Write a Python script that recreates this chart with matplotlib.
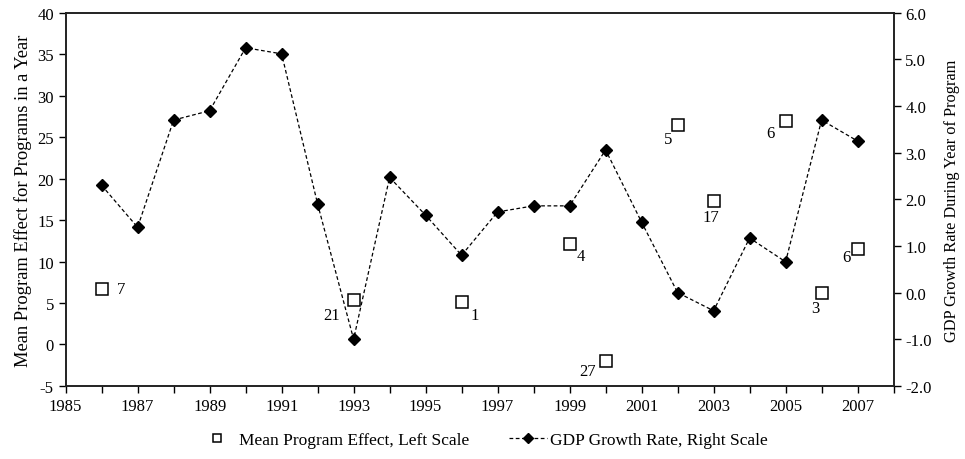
import numpy as np
import matplotlib.pyplot as plt
from matplotlib.ticker import FormatStrFormatter, MultipleLocator

plt.rcParams['font.family'] = ['Liberation Serif', 'DejaVu Serif']
plt.rcParams['axes.unicode_minus'] = False

# GDP growth rate during year of program (right scale)
gdp_years = np.arange(1986, 2008)
gdp_growth = [2.3, 1.4, 3.7, 3.9, 5.25, 5.12, 1.9, -1.0, 2.47, 1.66, 0.8,
              1.73, 1.86, 1.86, 3.06, 1.51, 0.0, -0.39, 1.17, 0.66, 3.7, 3.25]

# mean program effect (left scale) and number of programs in that year
effect_years = [1986, 1993, 1996, 1999, 2000, 2002, 2003, 2005, 2006, 2007]
effect_mean = [6.7, 5.3, 5.1, 12.1, -2.0, 26.5, 17.3, 27.0, 6.2, 11.5]
program_counts = [7, 21, 1, 4, 27, 5, 17, 6, 3, 6]
# where each count sits relative to its square, in pixels
count_offsets = [(19, 0), (-22, -15), (13, -13), (11, -12), (-18, -10),
                 (-9, -14), (-3, -16), (-15, -12), (-6, -15), (-11, -8)]

fig = plt.figure(figsize=(9.65, 4.6), dpi=100)
ax = fig.add_axes([0.068, 0.159, 0.858, 0.811])
ax2 = ax.twinx()

sq, = ax.plot(effect_years, effect_mean, linestyle='none', marker='s', markersize=8.5,
              markerfacecolor='white', markeredgecolor='black', markeredgewidth=1.1,
              label='Mean Program Effect, Left Scale', zorder=3)
for yr, val, n, off in zip(effect_years, effect_mean, program_counts, count_offsets):
    ax.annotate(str(n), (yr, val), xytext=off, textcoords='offset pixels',
                ha='center', va='center', fontsize=12)

gdp, = ax2.plot(gdp_years, gdp_growth, color='black', linestyle=(0, (3, 2)), linewidth=0.9,
                marker='D', markersize=6, markerfacecolor='black',
                label='GDP Growth Rate, Right Scale')

ax.set_xlim(1985, 2008)
ax.set_ylim(-5, 40)
ax2.set_ylim(-2, 6)
ax.set_xticks(np.arange(1985, 2008, 2))
ax.xaxis.set_minor_locator(MultipleLocator(1))
ax.yaxis.set_major_locator(MultipleLocator(5))
ax2.yaxis.set_major_locator(MultipleLocator(1))
ax2.yaxis.set_major_formatter(FormatStrFormatter('%.1f'))

for a in (ax, ax2):
    a.tick_params(axis='both', which='both', direction='out', labelsize=12,
                  width=1.0, colors='black')
    a.tick_params(which='major', length=5)
    a.tick_params(which='minor', length=5)
    for s in a.spines.values():
        s.set_linewidth(1.2)
        s.set_color('#222222')

ax.set_ylabel('Mean Program Effect for Programs in a Year', fontsize=13.3, labelpad=4)
ax2.set_ylabel('GDP Growth Rate During Year of Program', fontsize=11.8, labelpad=9)

# two separate legend entries, each with its own handle width
fig.legend([sq], [sq.get_label()], loc='center left', bbox_to_anchor=(0.2187, 0.041),
           frameon=False, fontsize=12.5, borderpad=0, borderaxespad=0,
           handlelength=0.72, handletextpad=0.9, markerscale=0.6)
fig.legend([gdp], [gdp.get_label()], loc='center left', bbox_to_anchor=(0.5275, 0.041),
           frameon=False, fontsize=12.5, borderpad=0, borderaxespad=0,
           handlelength=2.19, handletextpad=0.17, markerscale=0.9)

fig.savefig('out.png', dpi=100)
